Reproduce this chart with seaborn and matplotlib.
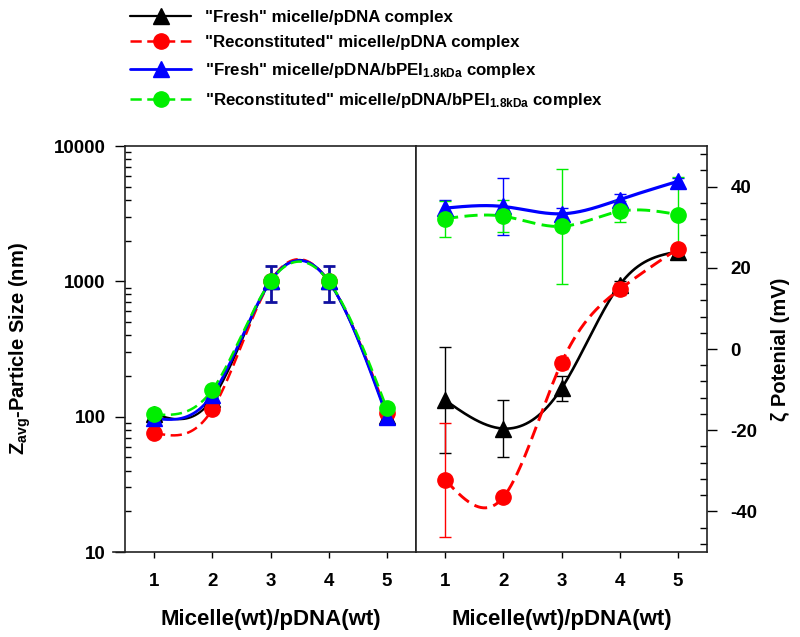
import numpy as np
import seaborn as sns
import matplotlib
matplotlib.use('Agg')
import matplotlib.pyplot as plt
from matplotlib.lines import Line2D

# micelle/pDNA weight ratio
ratio = [1, 2, 3, 4, 5]

# Z-average particle size (nm)
size_fresh = [105, 135, 1000, 1000, 102]
size_fresh_err = [8, 6, 0, 0, 4]
size_recon = [76, 113, 1000, 1000, 107]
size_recon_err = [3, 5, 0, 0, 4]
size_fresh_pei = [97, 145, 1000, 1000, 100]
size_fresh_pei_err = [5, 6, 300, 300, 6]
size_recon_pei = [104, 158, 1000, 1000, 115]
size_recon_pei_err = [4, 5, 0, 0, 4]

# zeta potential (mV)
zeta_fresh = [-12.6, -19.6, -9.7, 15.8, 24.0]
zeta_fresh_err = [13, 7, 3, 1, 1]
zeta_recon = [-32.2, -36.5, -3.4, 14.7, 24.7]
zeta_recon_err = [14, 1, 1.5, 1.5, 1]
zeta_fresh_pei = [34.7, 35.1, 33.3, 36.8, 41.3]
zeta_fresh_pei_err = [2, 7, 1.5, 1.3, 0.8]
zeta_recon_pei = [32.1, 32.7, 30.2, 33.9, 33.1]
zeta_recon_pei_err = [4.4, 4, 14.2, 2.5, 9.2]

labels = ['"Fresh" micelle/pDNA complex',
          '"Reconstituted" micelle/pDNA complex',
          '"Fresh" micelle/pDNA/bPEI$_{\\mathrm{1.8kDa}}$ complex',
          '"Reconstituted" micelle/pDNA/bPEI$_{\\mathrm{1.8kDa}}$ complex']

sns.set_theme(style='ticks')
plt.rcParams['font.family'] = ['Liberation Sans', 'DejaVu Sans']
plt.rcParams['font.weight'] = 'bold'
plt.rcParams['axes.labelweight'] = 'bold'
plt.rcParams['axes.unicode_minus'] = False
plt.rcParams['text.color'] = 'black'
plt.rcParams['axes.labelcolor'] = 'black'
plt.rcParams['xtick.color'] = 'black'
plt.rcParams['ytick.color'] = 'black'
plt.rcParams['mathtext.fontset'] = 'custom'
plt.rcParams['mathtext.rm'] = 'Liberation Sans:bold'
plt.rcParams['mathtext.bf'] = 'Liberation Sans:bold'
plt.rcParams['mathtext.it'] = 'Liberation Sans:bold:italic'


def natural_spline(x, y, n=300):
    # smooth connecting curve like the original graphing program
    x = np.asarray(x, float)
    y = np.asarray(y, float)
    k = len(x)
    h = np.diff(x)
    A = np.zeros((k, k))
    b = np.zeros(k)
    A[0, 0] = A[-1, -1] = 1
    for i in range(1, k - 1):
        A[i, i - 1] = h[i - 1]
        A[i, i] = 2 * (h[i - 1] + h[i])
        A[i, i + 1] = h[i]
        b[i] = 6 * ((y[i + 1] - y[i]) / h[i] - (y[i] - y[i - 1]) / h[i - 1])
    M = np.linalg.solve(A, b)
    xs = np.linspace(x[0], x[-1], n)
    i = np.clip(np.searchsorted(x, xs) - 1, 0, k - 2)
    hi = h[i]
    ys = (M[i] * (x[i + 1] - xs) ** 3 / (6 * hi) + M[i + 1] * (xs - x[i]) ** 3 / (6 * hi)
          + (y[i] / hi - M[i] * hi / 6) * (x[i + 1] - xs)
          + (y[i + 1] / hi - M[i + 1] * hi / 6) * (xs - x[i]))
    return xs, ys


styles = [
    dict(color='black', marker='^', ls='-', lw=1.6),
    dict(color='#ff0000', marker='o', ls=(0, (4.5, 2.2)), lw=1.8),
    dict(color='#0000ff', marker='^', ls='-', lw=2.0),
    dict(color='#00ee00', marker='o', ls=(0, (4.5, 2.2)), lw=1.8),
]

fig = plt.figure(figsize=(8, 6.37), dpi=100)
ax1 = fig.add_axes([0.15625, 0.1334, 0.36375, 0.6374])
ax2 = fig.add_axes([0.52, 0.1334, 0.36375, 0.6374])

left_sets = [(size_fresh, size_fresh_err), (size_recon, size_recon_err),
             (size_fresh_pei, size_fresh_pei_err), (size_recon_pei, size_recon_pei_err)]
right_sets = [(zeta_fresh, zeta_fresh_err), (zeta_recon, zeta_recon_err),
              (zeta_fresh_pei, zeta_fresh_pei_err), (zeta_recon_pei, zeta_recon_pei_err)]
left_ecolors = ['black', '#ff0000', '#1010a0', '#00ee00']
left_elw = [1.0, 1.0, 2.0, 1.0]

for st, (vals, err), ec, elw in zip(styles, left_sets, left_ecolors, left_elw):
    xs, ys = natural_spline(ratio, np.log10(vals))
    sns.lineplot(x=xs, y=10 ** ys, ax=ax1, color=st['color'], lw=st['lw'],
                 linestyle=st['ls'], errorbar=None)
    ax1.errorbar(ratio, vals, yerr=err, fmt=st['marker'], color=st['color'], ms=11,
                 ecolor=ec, elinewidth=elw, capsize=4, capthick=elw)

for st, (vals, err) in zip(styles, right_sets):
    xs, ys = natural_spline(ratio, vals)
    sns.lineplot(x=xs, y=ys, ax=ax2, color=st['color'], lw=st['lw'] + 0.3,
                 linestyle=st['ls'], errorbar=None)
    ax2.errorbar(ratio, vals, yerr=err, fmt=st['marker'], color=st['color'], ms=11,
                 ecolor=st['color'], elinewidth=1.0, capsize=4, capthick=1.0)

# left axis: log particle size
ax1.set_yscale('log')
ax1.set_ylim(10, 10000)
ax1.set_xlim(0.5, 5.5)
ax1.set_yticks([10, 100, 1000, 10000])
ax1.set_yticklabels(['10', '100', '1000', '10000'])
ax1.set_ylabel('Z$_{\\mathrm{avg}}$-Particle Size (nm)', fontsize=14.5, labelpad=15)
ax1.tick_params(axis='y', which='major', direction='out', length=7, width=1,
                labelsize=13.5, pad=7)
ax1.tick_params(axis='y', which='minor', direction='in', length=4, width=1)

# right axis: zeta potential
ax2.set_xlim(0.5, 5.5)
ax2.set_ylim(-50, 50)
ax2.yaxis.tick_right()
ax2.yaxis.set_label_position('right')
ax2.set_yticks([-40, -20, 0, 20, 40])
ax2.set_yticks(np.arange(-48, 49, 4), minor=True)
ax2.set_ylabel('\u03b6 Potenial (mV)', fontsize=14.5, labelpad=10)
ax2.tick_params(axis='y', which='major', direction='out', length=7, width=1,
                labelsize=13.5, pad=10, left=False, right=True)
ax2.tick_params(axis='y', which='minor', direction='in', length=5, width=1,
                left=False, right=True)

for ax in (ax1, ax2):
    ax.set_xticks(ratio)
    ax.set_xlabel('Micelle(wt)/pDNA(wt)', fontsize=16, labelpad=14)
    ax.tick_params(axis='x', which='both', direction='out', length=4, width=1,
                   labelsize=13.5, pad=11, top=False)
    for sp in ax.spines.values():
        sp.set_visible(True)
        sp.set_color('#222222')
        sp.set_linewidth(1.2)
    ax.grid(False)
ax1.spines['bottom'].set_bounds(0.3, 5.5)
ax1.tick_params(axis='x', which='minor', bottom=False)

handles = [Line2D([0], [0], color=st['color'], marker=st['marker'], ms=11,
                  linestyle=st['ls'], lw=st['lw']) for st in styles]
fig.legend(handles, labels, loc='upper left', bbox_to_anchor=(0.144, 1.009),
           frameon=False, fontsize=12.2, handlelength=3.6, labelspacing=0.64,
           handletextpad=0.8)

fig.savefig('out.png', dpi=100)
